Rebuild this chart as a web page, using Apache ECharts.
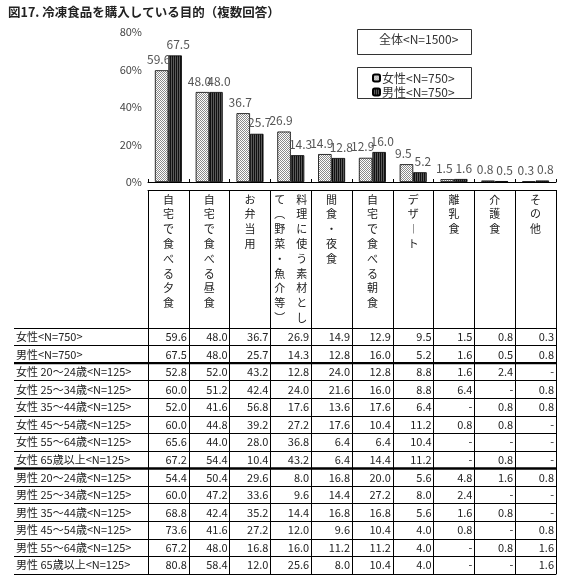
<!DOCTYPE html>
<html><head><meta charset="utf-8">
<script src="https://cdn.jsdelivr.net/npm/echarts@6/dist/echarts.min.js"></script>
<style>html,body{margin:0;padding:0;background:#fff}#c{width:573px;height:576px}</style>
</head><body><div id="c"></div>
<script>
// ---- data ----
const categories = ['自宅で食べる夕食','自宅で食べる昼食','お弁当用','料理に使う素材として（野菜・魚介等）','間食・夜食','自宅で食べる朝食','デザート','離乳食','介護食','その他'];
// vertical header columns (first = rightmost column)
const headerColumns = [['自宅で食べる夕食'],['自宅で食べる昼食'],['お弁当用'],['料理に使う素材とし','て（野菜・魚介等）'],['間食・夜食'],['自宅で食べる朝食'],['デザート'],['離乳食'],['介護食'],['その他']];
const femaleName = '女性<N=750>';
const maleName = '男性<N=750>';
const totalLabel = '全体<N=1500>';
const femaleValues = [59.6,48.0,36.7,26.9,14.9,12.9,9.5,1.5,0.8,0.3];
const maleValues = [67.5,48.0,25.7,14.3,12.8,16.0,5.2,1.6,0.5,0.8];
const yTicks = [0,20,40,60,80];
const rowLabels = ['女性<N=750>','男性<N=750>',
 '女性 20～24歳<N=125>','女性 25～34歳<N=125>','女性 35～44歳<N=125>','女性 45～54歳<N=125>','女性 55～64歳<N=125>','女性 65歳以上<N=125>',
 '男性 20～24歳<N=125>','男性 25～34歳<N=125>','男性 35～44歳<N=125>','男性 45～54歳<N=125>','男性 55～64歳<N=125>','男性 65歳以上<N=125>'];
const rowFemale    = [59.6,48.0,36.7,26.9,14.9,12.9,9.5,1.5,0.8,0.3];
const rowMale      = [67.5,48.0,25.7,14.3,12.8,16.0,5.2,1.6,0.5,0.8];
const rowF2024 = [52.8,52.0,43.2,12.8,24.0,12.8,8.8,1.6,2.4,null];
const rowF2534 = [60.0,51.2,42.4,24.0,21.6,16.0,8.8,6.4,null,0.8];
const rowF3544 = [52.0,41.6,56.8,17.6,13.6,17.6,6.4,null,0.8,0.8];
const rowF4554 = [60.0,44.8,39.2,27.2,17.6,10.4,11.2,0.8,0.8,null];
const rowF5564 = [65.6,44.0,28.0,36.8,6.4,6.4,10.4,null,null,null];
const rowF65   = [67.2,54.4,10.4,43.2,6.4,14.4,11.2,null,0.8,null];
const rowM2024 = [54.4,50.4,29.6,8.0,16.8,20.0,5.6,4.8,1.6,0.8];
const rowM2534 = [60.0,47.2,33.6,9.6,14.4,27.2,8.0,2.4,null,null];
const rowM3544 = [68.8,42.4,35.2,14.4,16.8,16.8,5.6,1.6,0.8,null];
const rowM4554 = [73.6,41.6,27.2,12.0,9.6,10.4,4.0,0.8,null,0.8];
const rowM5564 = [67.2,48.0,16.8,16.0,11.2,11.2,4.0,null,0.8,1.6];
const rowM65   = [80.8,58.4,12.0,25.6,8.0,10.4,4.0,null,null,1.6];
const tableRows = [rowFemale,rowMale,rowF2024,rowF2534,rowF3544,rowF4554,rowF5564,rowF65,rowM2024,rowM2534,rowM3544,rowM4554,rowM5564,rowM65];
const groupEnds = [1,7];

// ---- helpers ----
const FONT = '"Noto Sans CJK JP", "Noto Sans", sans-serif';
const NUMFONT = '"Liberation Sans Narrow", "Arial Narrow", "Noto Sans CJK JP", sans-serif';
function pattern(w,h,draw){const cv=document.createElement('canvas');cv.width=w;cv.height=h;const ctx=cv.getContext('2d');draw(ctx);return {image:cv,repeat:'repeat'};}
const femalePat = pattern(2,2,c=>{c.fillStyle='#fff';c.fillRect(0,0,2,2);c.fillStyle='#8a8a8a';c.fillRect(0,0,1,1);c.fillRect(1,1,1,1);});
const malePat = pattern(2,1,c=>{c.fillStyle='#111';c.fillRect(0,0,2,1);c.fillStyle='#5a5a5a';c.fillRect(1,0,1,1);});
const vmap = {'（':'︵','）':'︶','ー':'︱'};
function vertical(cols){
  const chars = cols.map(s=>Array.from(s).map(ch=>vmap[ch]||ch));
  const n = Math.max(...chars.map(a=>a.length));
  const lines=[];
  for(let i=0;i<n;i++){
    const parts=[];
    for(let k=chars.length-1;k>=0;k--) parts.push(chars[k][i]||'　');
    lines.push(parts.join('　'));
  }
  return lines.join('\n');
}
const headerMap = {}; categories.forEach((c,i)=>headerMap[c]=vertical(headerColumns[i]));

const cellData=[];
tableRows.forEach((row,r)=>row.forEach((v,c)=>cellData.push([c,r])));

const chart = echarts.init(document.getElementById('c'));
chart.setOption({
  animation:false,
  backgroundColor:'#fff',
  textStyle:{fontFamily:FONT},
  title:{text:'図17. 冷凍食品を購入している目的（複数回答）',left:3,top:1,textStyle:{fontSize:12.5,fontWeight:'bold',color:'#222',fontFamily:FONT}},
  graphic:[
    {type:'rect',left:357,top:29,shape:{width:114,height:25},style:{fill:'#fff',stroke:'#333',lineWidth:1}},
    {type:'text',left:379,top:33,style:{text:totalLabel,fontSize:12,fill:'#333',fontFamily:FONT}},
    {type:'rect',left:357,top:67,shape:{width:114,height:31},style:{fill:'#fff',stroke:'#333',lineWidth:1}},
  ],
  legend:{data:[femaleName,maleName],orient:'vertical',left:367,top:67,itemWidth:7,itemHeight:7,itemGap:2,
    textStyle:{fontSize:12,color:'#333',padding:[0,0,0,-3],fontFamily:FONT},z:10},
  grid:[
    {left:148,top:32,width:408,height:150},
    {left:148,top:328,width:408,height:246,show:false}
  ],
  xAxis:[
    {gridIndex:0,type:'category',data:categories,axisLine:{lineStyle:{color:'#000',width:1}},
     axisTick:{show:true,inside:true,length:3,interval:0,lineStyle:{color:'#000'}},axisLabel:{show:false}},
    {gridIndex:1,type:'category',data:categories,position:'top',axisLine:{show:true,lineStyle:{color:'#000'}},
     axisTick:{show:true,length:138,interval:0,lineStyle:{color:'#000'}},axisLabel:{show:false},
     splitLine:{show:true,interval:0,lineStyle:{color:'#000'}}},
    {gridIndex:1,type:'category',data:categories,position:'top',offset:138,axisLine:{show:true,lineStyle:{color:'#000'}},
     axisTick:{show:false},axisLabel:{show:true,inside:true,interval:0,margin:2,verticalAlign:'top',
     formatter:v=>headerMap[v],fontSize:11,lineHeight:14.8,color:'#222',fontFamily:FONT}}
  ],
  yAxis:[
    {gridIndex:0,type:'value',min:0,max:80,interval:20,axisLine:{show:false},axisTick:{show:false},splitLine:{show:false},
     axisLabel:{formatter:v=>yTicks.includes(v)?v+'%':'',fontSize:11,color:'#444',margin:6,fontFamily:NUMFONT}},
    {gridIndex:1,type:'category',data:rowLabels,inverse:true,axisLine:{show:true,lineStyle:{color:'#000'}},
     axisTick:{show:true,length:134,interval:0,lineStyle:{color:'#000'}},
     axisLabel:{show:true,interval:0,align:'left',margin:132,fontSize:11,color:'#222',fontFamily:FONT},
     splitLine:{show:true,interval:0,lineStyle:{color:'#000'}}},
    {gridIndex:1,type:'category',data:rowLabels,inverse:true,offset:134,axisLine:{show:true,lineStyle:{color:'#000'}},
     axisTick:{show:false},axisLabel:{show:false}},
    {gridIndex:1,type:'category',data:rowLabels,inverse:true,position:'right',axisLine:{show:true,lineStyle:{color:'#000'}},
     axisTick:{show:false},axisLabel:{show:false}}
  ],
  series:[
    {name:femaleName,type:'bar',xAxisIndex:0,yAxisIndex:0,data:femaleValues,barWidth:13.5,barGap:'0%',
     itemStyle:{color:femalePat,borderColor:'#000',borderWidth:0.8},
     label:{show:true,position:'top',distance:5,offset:[-3,0],fontSize:12,color:'#555',formatter:p=>p.value.toFixed(1),fontFamily:NUMFONT}},
    {name:maleName,type:'bar',xAxisIndex:0,yAxisIndex:0,data:maleValues,barWidth:13.5,barGap:'0%',
     itemStyle:{color:malePat,borderColor:'#000',borderWidth:0.8},
     label:{show:true,position:'top',distance:5,offset:[3,0],fontSize:12,color:'#555',formatter:p=>p.value.toFixed(1),fontFamily:NUMFONT}},
    {type:'custom',xAxisIndex:1,yAxisIndex:1,data:cellData,silent:true,
     renderItem:(params,api)=>{
       const c=api.value(0), r=api.value(1);
       const pt=api.coord([c,r]); const sz=api.size([1,1]);
       const v=tableRows[r][c];
       const children=[{type:'text',style:{x:pt[0]+sz[0]/2-2,y:pt[1],text:v==null?'-':v.toFixed(1),
         align:'right',verticalAlign:'middle',fontSize:11,fill:'#222',fontFamily:FONT}}];
       if(c===0 && groupEnds.includes(r)){
         const cs=params.coordSys;
         children.push({type:'rect',shape:{x:cs.x-134,y:pt[1]+sz[1]/2-1.2,width:cs.width+134,height:2.4},style:{fill:'#000'}});
       }
       return {type:'group',children};
     }}
  ]
});
</script></body></html>
